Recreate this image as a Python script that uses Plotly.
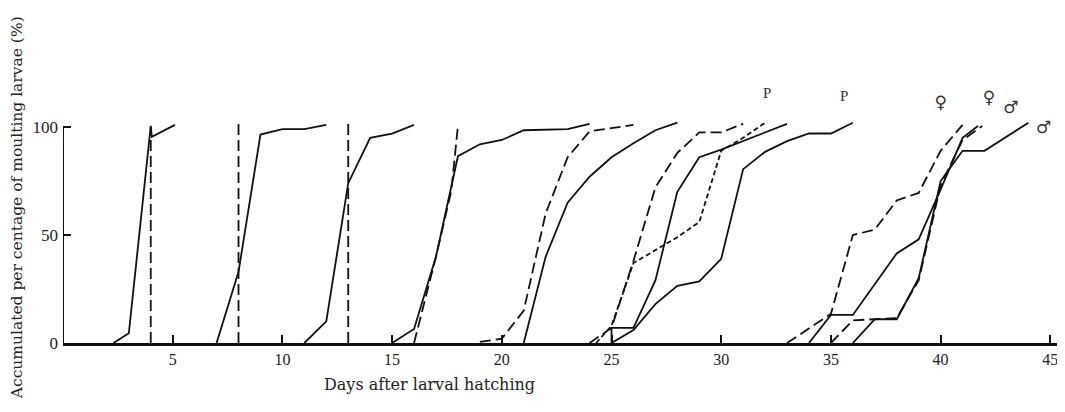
import plotly.graph_objects as go

# ---- data (days after hatching, accumulated % of moulting larvae) ----
X_TICKS = [5, 10, 15, 20, 25, 30, 35, 40, 45]
Y_TICKS = [0, 50, 100]

S1_DAYS = [2.3, 3, 4, 4.05, 5.1]
S1_PCT = [0, 4.5, 100.5, 95.5, 101]
D1_DAYS = [4, 4]
D1_PCT = [0, 100]

S2_DAYS = [7, 8, 9, 10, 11, 12]
S2_PCT = [0, 33, 96.5, 99, 99, 101]
D2_DAYS = [8, 8]
D2_PCT = [0, 102.5]

S3_DAYS = [11, 12, 13, 14, 15, 16]
S3_PCT = [0, 10, 74, 95, 97, 101]
D3_DAYS = [13, 13]
D3_PCT = [0, 102]

S4_DAYS = [15, 16, 17, 18, 19, 20, 21, 23, 24]
S4_PCT = [0, 6.5, 40, 86.5, 92, 94, 98.5, 99, 101.5]
D4_DAYS = [16, 17, 17.7, 18]
D4_PCT = [0, 40, 70.5, 100.5]

S5_DAYS = [21, 22, 23, 24, 25, 26, 27, 28]
S5_PCT = [0, 40, 65, 77, 86, 92.5, 98.5, 102]
D5_DAYS = [19, 20, 21, 22, 23, 24, 26]
D5_PCT = [0.5, 2, 15, 60, 86, 98, 101]

S6_DAYS = [25, 25, 26, 27, 28, 29, 30, 31, 32, 33]
S6_PCT = [0, 7, 7, 29, 70, 86, 89.5, 93.5, 97.5, 101.5]
S7_DAYS = [25, 26, 27, 28, 29, 30, 31, 32, 33, 34, 35, 36]
S7_PCT = [0, 6, 18, 26.5, 28.5, 39, 80.5, 88.5, 93.5, 97, 97, 102]
D6_DAYS = [24, 25, 26, 27, 28, 29, 30, 31]
D6_PCT = [0, 7, 38, 72, 88, 97.5, 97.5, 101.5]
D7_DAYS = [24.3, 25, 26, 27, 28, 29, 30, 31, 32]
D7_PCT = [0, 8, 37, 43, 49, 56, 89, 95, 102]

D8_DAYS = [33, 35, 36, 37, 38, 39, 40, 41]
D8_PCT = [0, 13.5, 50, 52.5, 66, 69.5, 89, 101]
S8_DAYS = [34, 35, 36, 38, 39, 40, 41, 41.7]
S8_PCT = [0, 13, 13, 41.5, 48, 71, 95, 100.5]
D9_DAYS = [35, 36, 37, 38, 39, 40, 41, 41.9]
D9_PCT = [0, 10.5, 11, 11.5, 29, 73, 94, 100.5]
S9_DAYS = [36, 37, 38, 39, 40, 41, 42, 44]
S9_PCT = [0, 11, 11, 30, 75, 89, 89, 102]

PUPA_LABELS = ["P", "P"]
PUPA_LABEL_DAYS = [32.1, 35.6]
PUPA_LABEL_PCT = [115, 114]
SEX_LABELS = ["\u2640", "\u2640", "\u2642", "\u2642"]
SEX_LABEL_DAYS = [40.0, 42.2, 43.2, 44.7]
SEX_LABEL_PCT = [111, 113, 108.5, 99]

LONG = "11px,5px"
SHORT = "5px,3px"
SERIES = [
    (S1_DAYS, S1_PCT, "solid"), (D1_DAYS, D1_PCT, LONG),
    (S2_DAYS, S2_PCT, "solid"), (D2_DAYS, D2_PCT, LONG),
    (S3_DAYS, S3_PCT, "solid"), (D3_DAYS, D3_PCT, LONG),
    (S4_DAYS, S4_PCT, "solid"), (D4_DAYS, D4_PCT, LONG),
    (S5_DAYS, S5_PCT, "solid"), (D5_DAYS, D5_PCT, LONG),
    (S6_DAYS, S6_PCT, "solid"), (S7_DAYS, S7_PCT, "solid"),
    (D6_DAYS, D6_PCT, LONG), (D7_DAYS, D7_PCT, SHORT),
    (D8_DAYS, D8_PCT, LONG), (S8_DAYS, S8_PCT, "solid"),
    (D9_DAYS, D9_PCT, LONG), (S9_DAYS, S9_PCT, "solid"),
]

INK = "#111111"
SERIF = "Liberation Serif"
WIDE_SERIF = "DejaVu Serif"

fig = go.Figure()
for days, pct, dash in SERIES:
    fig.add_trace(go.Scatter(
        x=days, y=pct, mode="lines",
        line=dict(color=INK, width=1.8, dash=dash),
        showlegend=False, hoverinfo="skip",
    ))

fig.add_trace(go.Scatter(
    x=PUPA_LABEL_DAYS, y=PUPA_LABEL_PCT, mode="text", text=PUPA_LABELS,
    textfont=dict(family=SERIF, size=15, color="#333333"),
    showlegend=False, hoverinfo="skip", cliponaxis=False,
))
fig.add_trace(go.Scatter(
    x=SEX_LABEL_DAYS, y=SEX_LABEL_PCT, mode="text", text=SEX_LABELS,
    textfont=dict(family="DejaVu Sans", size=17, color="#333333"),
    showlegend=False, hoverinfo="skip", cliponaxis=False,
))

# y axis line, only from 0 to 100 as in the original figure
fig.add_shape(type="line", xref="x", yref="y",
              x0=0, x1=0, y0=Y_TICKS[0], y1=Y_TICKS[-1],
              line=dict(color=INK, width=2))

# the page body has an 8px margin; size/margins compensate for it
fig.update_layout(
    width=1057, height=396,
    margin=dict(l=55, r=7, t=32, b=61),
    paper_bgcolor="white", plot_bgcolor="white",
    xaxis=dict(
        range=[0, 45.35], tickvals=X_TICKS, ticks="inside", ticklen=8,
        tickwidth=2, tickcolor=INK, showline=True, linewidth=3,
        linecolor=INK, showgrid=False, zeroline=False,
        tickfont=dict(family=SERIF, size=16, color="#222222"),
    ),
    yaxis=dict(
        range=[0, 140.3], tickvals=Y_TICKS, ticks="inside", ticklen=8,
        tickwidth=2, tickcolor=INK, showline=False, showgrid=False,
        zeroline=False, ticklabelstandoff=4,
        tickfont=dict(family=SERIF, size=17, color="#222222"),
    ),
    annotations=[
        dict(text="Accumulated per centage of moulting larvae (%)",
             xref="paper", yref="paper", x=-0.046, y=0.4455,
             textangle=-90, showarrow=False, xanchor="center",
             yanchor="middle",
             font=dict(family=WIDE_SERIF, size=15.5, color="#222222")),
        dict(text="Days after larval hatching",
             xref="paper", yref="paper", x=0.368, y=-0.1386,
             showarrow=False, xanchor="center", yanchor="middle",
             font=dict(family=WIDE_SERIF, size=16, color="#222222")),
    ],
)

fig.write_html("out.html")
